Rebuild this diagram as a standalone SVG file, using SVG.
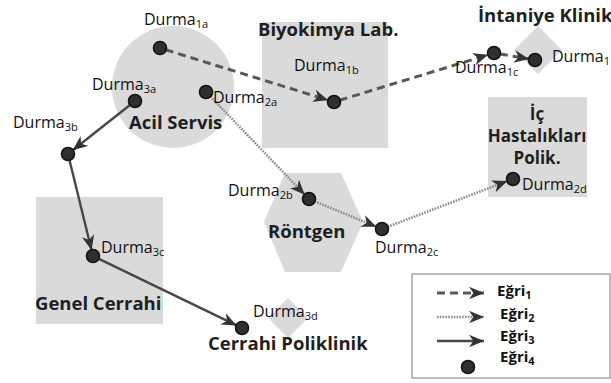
<svg xmlns="http://www.w3.org/2000/svg" width="611" height="383" viewBox="0 0 611 383">
  <style>
    .area { fill: #dadada; stroke: none; }
    .title { font-family: "Open Sans", "Noto Sans", sans-serif; font-weight: bold; font-size: 18.5px; fill: #1f1f1f; }
    .stacked { font-size: 17px; }
    .stop-label { font-family: "Open Sans", "Noto Sans", sans-serif; font-size: 16px; fill: #111; }
    .sub { font-size: 11px; }
    .stop { fill: #2f2f2f; stroke: #141414; stroke-width: 1.6; }
    .c1 { fill: none; stroke: #595959; stroke-width: 3; stroke-dasharray: 8 5; }
    .c2 { fill: none; stroke: #8c8c8c; stroke-width: 2.6; stroke-dasharray: 1.6 1.2; }
    .c3 { fill: none; stroke: #474747; stroke-width: 2.4; }
    .legend-box { fill: #fff; stroke: #a6a6a6; stroke-width: 1.5; }
    .legend-text { font-family: "Open Sans", "Noto Sans", sans-serif; font-weight: bold; font-size: 15px; fill: #111; }
  </style>
  <defs>
    <marker id="arrow" viewBox="0 0 12 10" refX="12" refY="5" markerWidth="15" markerHeight="12.5" markerUnits="userSpaceOnUse" orient="auto">
      <path d="M0,0 L12,5 L0,10 L3.5,5 Z" fill="#333"/>
    </marker>
  </defs>

  <rect width="611" height="383" fill="#fff"/>

  <!-- department areas -->
  <g id="acil-servis">
    <circle class="area" cx="173" cy="87" r="61"/>
    <text class="title" x="129" y="129">Acil Servis</text>
  </g>
  <g id="biyokimya-lab">
    <rect class="area" x="262" y="22" width="126" height="126"/>
    <text class="title" x="258" y="36">Biyokimya Lab.</text>
  </g>
  <g id="intaniye-klinik">
    <polygon class="area" points="538,26 562,50 538,74 514,50"/>
    <text class="title" x="478" y="22" font-size="17.5">İntaniye Klinik</text>
  </g>
  <g id="ic-hastaliklari">
    <rect class="area" x="488" y="97" width="99" height="100"/>
    <text class="title stacked" x="537" y="120" text-anchor="middle">İç</text>
    <text class="title stacked" x="537" y="142" text-anchor="middle">Hastalıkları</text>
    <text class="title stacked" x="537" y="164" text-anchor="middle">Polik.</text>
  </g>
  <g id="rontgen">
    <polygon class="area" points="285,173 341,173 363,222 341,272 285,272 264,222"/>
    <text class="title" x="268" y="238">Röntgen</text>
  </g>
  <g id="genel-cerrahi">
    <rect class="area" x="36" y="197" width="127" height="127"/>
    <text class="title" x="35" y="310">Genel Cerrahi</text>
  </g>
  <g id="cerrahi-poliklinik">
    <polygon class="area" points="288,298 308,318 288,338 268,318"/>
    <text class="title" x="208" y="350">Cerrahi Poliklinik</text>
  </g>

  <!-- routes between stops -->
  <g id="connectors">
    <line class="c1" x1="165.7" y1="49.8" x2="328.3" y2="100.2" marker-end="url(#arrow)"/>
    <line class="c1" x1="339.7" y1="100.2" x2="488.3" y2="54.8" marker-end="url(#arrow)"/>
    <line class="c1" x1="499.9" y1="54" x2="529.1" y2="59" marker-end="url(#arrow)"/>

    <line class="c2" x1="210.2" y1="96.3" x2="304.8" y2="194.7" marker-end="url(#arrow)"/>
    <line class="c2" x1="314.5" y1="201.3" x2="376.5" y2="226.7" marker-end="url(#arrow)"/>
    <line class="c2" x1="387.6" y1="226.9" x2="507.4" y2="181.1" marker-end="url(#arrow)"/>

    <line class="c3" x1="130.3" y1="104.7" x2="72.7" y2="150.3" marker-end="url(#arrow)"/>
    <line class="c3" x1="69.4" y1="159.8" x2="91.6" y2="250.2" marker-end="url(#arrow)"/>
    <line class="c3" x1="98.4" y1="258.6" x2="236.6" y2="325.4" marker-end="url(#arrow)"/>
  </g>

  <!-- stops -->
  <g id="stop-1a"><circle class="stop" cx="160" cy="48" r="6.5"/><text class="stop-label" x="144" y="25">Durma<tspan class="sub" dy="3">1a</tspan></text></g>
  <g id="stop-1b"><circle class="stop" cx="334" cy="102" r="6.5"/><text class="stop-label" x="294" y="71">Durma<tspan class="sub" dy="3">1b</tspan></text></g>
  <g id="stop-1c"><circle class="stop" cx="494" cy="53" r="6.5"/><text class="stop-label" x="455" y="73">Durma<tspan class="sub" dy="3">1c</tspan></text></g>
  <g id="stop-1d"><circle class="stop" cx="535" cy="60" r="6.5"/><text class="stop-label" x="552" y="62">Durma<tspan class="sub" dy="3">1</tspan></text></g>

  <g id="stop-2a"><circle class="stop" cx="206" cy="92" r="6.5"/><text class="stop-label" x="213" y="103">Durma<tspan class="sub" dy="3">2a</tspan></text></g>
  <g id="stop-2b"><circle class="stop" cx="309" cy="199" r="6.5"/><text class="stop-label" x="228" y="196">Durma<tspan class="sub" dy="3">2b</tspan></text></g>
  <g id="stop-2c"><circle class="stop" cx="382" cy="229" r="6.5"/><text class="stop-label" x="375" y="253">Durma<tspan class="sub" dy="3">2c</tspan></text></g>
  <g id="stop-2d"><circle class="stop" cx="513" cy="179" r="6.5"/><text class="stop-label" x="522" y="190">Durma<tspan class="sub" dy="3">2d</tspan></text></g>

  <g id="stop-3a"><circle class="stop" cx="135" cy="101" r="6.5"/><text class="stop-label" x="92" y="90">Durma<tspan class="sub" dy="3">3a</tspan></text></g>
  <g id="stop-3b"><circle class="stop" cx="68" cy="154" r="6.5"/><text class="stop-label" x="13" y="128">Durma<tspan class="sub" dy="3">3b</tspan></text></g>
  <g id="stop-3c"><circle class="stop" cx="93" cy="256" r="6.5"/><text class="stop-label" x="101" y="253">Durma<tspan class="sub" dy="3">3c</tspan></text></g>
  <g id="stop-3d"><circle class="stop" cx="242" cy="328" r="6.5"/><text class="stop-label" x="253" y="317">Durma<tspan class="sub" dy="3">3d</tspan></text></g>

  <!-- legend -->
  <g id="legend">
    <rect class="legend-box" x="412" y="274" width="198" height="104"/>
    <line class="c1" x1="437" y1="293" x2="484" y2="293" marker-end="url(#arrow)"/>
    <line class="c2" x1="437" y1="317" x2="484" y2="317" marker-end="url(#arrow)"/>
    <line class="c3" x1="437" y1="341" x2="484" y2="341" marker-end="url(#arrow)"/>
    <circle class="stop" cx="468" cy="367" r="6.5"/>
    <text class="legend-text" x="497" y="296">Eğri<tspan font-size="11" dy="3">1</tspan></text>
    <text class="legend-text" x="500" y="319">Eğri<tspan font-size="11" dy="3">2</tspan></text>
    <text class="legend-text" x="500" y="341">Eğri<tspan font-size="11" dy="3">3</tspan></text>
    <text class="legend-text" x="500" y="362">Eğri<tspan font-size="11" dy="3">4</tspan></text>
  </g>
</svg>
